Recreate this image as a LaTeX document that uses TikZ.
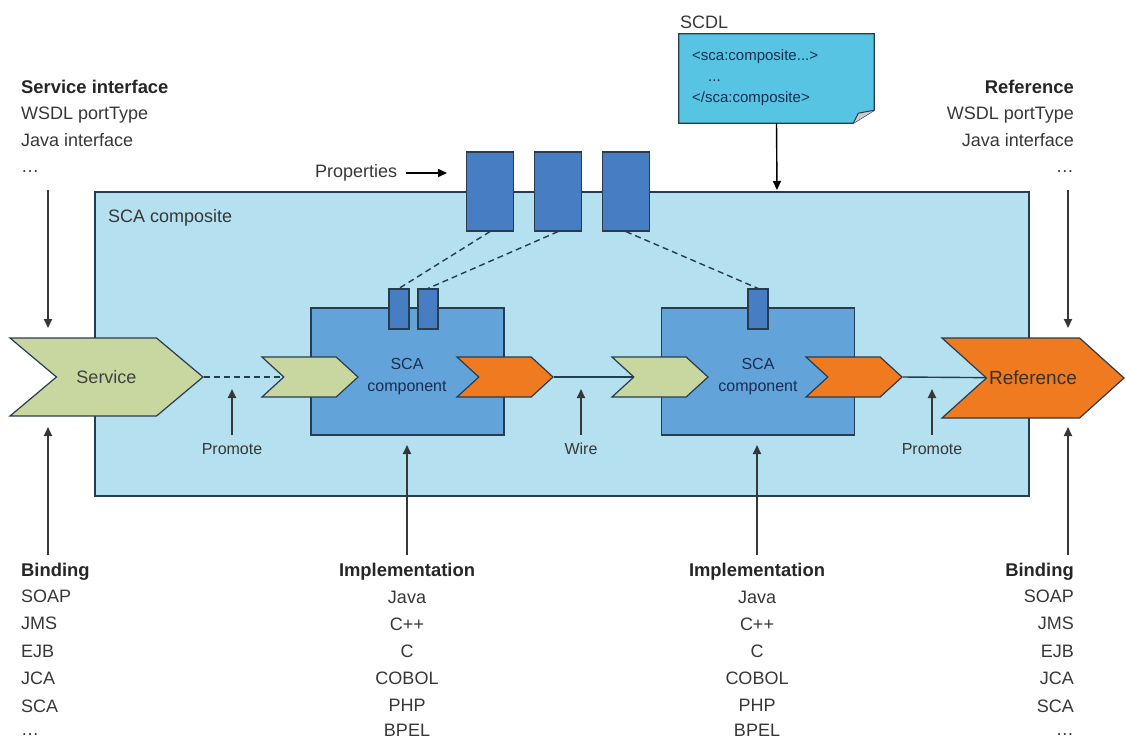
\documentclass[tikz,border=0pt]{standalone}
\usepackage{fontspec}
\setmainfont{Liberation Sans}
\usetikzlibrary{shapes.symbols,arrows.meta,backgrounds,positioning}

\definecolor{compositebg}{RGB}{180,224,240}
\definecolor{compblue}{RGB}{98,163,218}
\definecolor{propblue}{RGB}{70,125,195}
\definecolor{svcgreen}{RGB}{200,215,160}
\definecolor{reforange}{RGB}{240,122,32}
\definecolor{notecyan}{RGB}{88,196,228}
\definecolor{edge}{RGB}{40,60,80}
\definecolor{txtgray}{RGB}{55,55,55}
\definecolor{comptext}{RGB}{25,45,85}

\begin{document}
\begin{tikzpicture}[x=1pt,y=-1pt,
        every node/.style={inner sep=0pt},
        txt/.style={text=txtgray,font=\fontsize{18}{21}\selectfont},
        head/.style={text=black!85,font=\fontsize{18.4}{21}\selectfont\bfseries},
        small/.style={text=txtgray,font=\fontsize{16}{22}\selectfont},
        note/.style={text=comptext,font=\fontsize{15}{18}\selectfont},
        arr/.style={draw=txtgray,line width=1.8pt,-{Triangle[length=9pt,width=8pt]}},
        link/.style={draw=edge,line width=1.4pt},
        dashlink/.style={link,dash pattern=on 6pt off 4pt},
        chev/.style={signal,signal to=east,signal from=west,draw=edge,line width=1.2pt},
        port/.style={chev,minimum width=96pt,minimum height=40pt,signal pointer angle=85},
        comp/.style={draw=edge,line width=1.4pt,fill=compblue,minimum width=193pt,minimum height=127pt},
        prop/.style={draw=edge,line width=1.2pt,fill=propblue,minimum width=47pt,minimum height=79pt},
        slot/.style={prop,minimum width=20pt,minimum height=40pt}]
    \useasboundingbox (0,0) rectangle (1126,740);

    % services, references and component ports
    \node[chev,fill=svcgreen,minimum width=193pt,minimum height=78pt,signal pointer angle=80,
          text=black!75,font=\fontsize{18}{21}\selectfont] (svc) at (106.5,377) {Service};
    \node[chev,fill=reforange,minimum width=182pt,minimum height=80pt,signal pointer angle=84,
          text=black!80,font=\fontsize{19}{21}\selectfont] (ref) at (1033,378) {Reference};
    \node[port,fill=svcgreen] (c1in) at (310,377) {};
    \node[port,fill=reforange] (c1out) at (505,377) {};
    \node[port,fill=svcgreen] (c2in) at (660,377) {};
    \node[port,fill=reforange] (c2out) at (854,377) {};

    % properties
    \foreach \x [count=\i] in {490,558,626}
        \node[prop] (p\i) at (\x,191.5) {};
    \foreach \x/\n in {399/1,428/2,758/3}
        \node[slot] (s\n) at (\x,309) {};
    \foreach \i in {1,2,3}
        \draw[dashlink] (p\i.south) -- (s\i.north);

    % composite, components and wires
    \begin{scope}[on background layer]
        \node[draw=edge,line width=1.8pt,fill=compositebg,minimum width=934pt,minimum height=304pt] (composite) at (562,344) {};
        \node[comp] (comp1) at (407.5,371.5) {};
        \node[comp] (comp2) at (758,371.5) {};
        \draw[dashlink] (svc.east) -- (c1in.center);
        \draw[link] (c1out.east) -- (c2in.center);
        \draw[link] (c2out.east) -- (ref.center);
    \end{scope}

    \node[txt,anchor=west] (complbl) at (108,218) {SCA composite};
    \node[small,text=comptext,align=center] (c1lbl) at (407,377) {SCA\\component};
    \node[small,text=comptext,align=center] (c2lbl) at (758,377) {SCA\\component};
    \node[small] (prom1) at (232,449) {Promote};
    \node[small] (wire) at (581,449) {Wire};
    \node[small] (prom2) at (932,449) {Promote};

    % SCDL note
    \node[txt,anchor=base west] (scdlhead) at (680,28) {SCDL};
    \node[minimum width=195pt,minimum height=89pt] (scdl) at (776.5,78.5) {};
    \draw[draw=edge,line width=1.2pt,fill=notecyan] (scdl.north west) -- (scdl.north east)
        -- ([yshift=13pt]scdl.south east) -- ([xshift=-21pt]scdl.south east) -- (scdl.south west) -- cycle;
    \draw[draw=edge,line width=1pt,fill=gray!40] ([yshift=13pt]scdl.south east) -- ([xshift=-16pt,yshift=10pt]scdl.south east)
        -- ([xshift=-21pt]scdl.south east);
    \node[note,anchor=base west] (n1) at (692,60) {<sca:composite...>};
    \node[note,anchor=base west] (n2) at (708,81) {...};
    \node[note,anchor=base west] (n3) at (692,102) {</sca:composite>};

    % side texts
    \node[head,anchor=base west] (sihead) at (21,93) {Service interface};
    \foreach \y/\t [count=\i] in {119/WSDL portType,146/Java interface,172/\ldots}
        \node[txt,anchor=base west] (si\i) at (21,\y) {\t};
    \node[head,anchor=base east] (rihead) at (1074,93) {Reference};
    \foreach \y/\t [count=\i] in {119/WSDL portType,146/Java interface,172/\ldots}
        \node[txt,anchor=base east] (ri\i) at (1074,\y) {\t};
    \node[head,anchor=base west] (lbhead) at (21,576) {Binding};
    \foreach \y/\t [count=\i] in {602/SOAP,629/JMS,657/EJB,684/JCA,712/SCA,735/\ldots}
        \node[txt,anchor=base west] (lb\i) at (21,\y) {\t};
    \node[head,anchor=base east] (rbhead) at (1074,576) {Binding};
    \foreach \y/\t [count=\i] in {602/SOAP,629/JMS,657/EJB,684/JCA,712/SCA,735/\ldots}
        \node[txt,anchor=base east] (rb\i) at (1074,\y) {\t};
    \foreach \x/\n in {407/1,757/2} {
        \node[head,anchor=base] (imhead\n) at (\x,576) {Implementation};
        \foreach \y/\t [count=\i] in {603/Java,630/C++,657/C,684/COBOL,711/PHP,736/BPEL}
            \node[txt,anchor=base] (im\n\i) at (\x,\y) {\t};
    }

    % arrows
    \foreach \n/\x/\ya/\yb in {sit/48/190/328,sib/48/555/427,rit/1068/190/328,rib/1068/555/427,
            pra/232/435/389,wir/581/435/389,prb/932/435/389,ima/407/555/445,imb/757/555/445} {
        \coordinate (\n a) at (\x,\ya);
        \coordinate (\n b) at (\x,\yb);
        \draw[arr] (\n a) -- (\n b);
    }
    \coordinate (propsend) at (447,173);
    \node[txt,anchor=west] (propslbl) at (315,173) {Properties};
    \draw[arr,draw=black,line width=1.6pt,shorten <=9pt] (propslbl.east) -- (propsend);
    \coordinate (scdlend) at (777,190);
    \draw[arr,draw=black,line width=1.4pt] (scdl.south) -- (scdlend);
\end{tikzpicture}
\end{document}
